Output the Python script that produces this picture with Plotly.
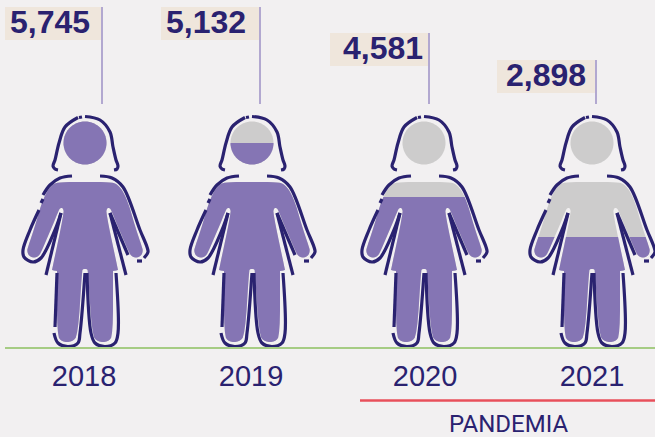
import numpy as np
import plotly.graph_objects as go

# ---- data ----
years = ["2018", "2019", "2020", "2021"]
cases = [5745, 5132, 4581, 2898]
fill_share = [1.0, 0.887, 0.652, 0.478]   # share of the pictogram filled
period_label = "PANDEMIA"

# ---- layout of the four pictograms (pixel-scaled axes) ----
W, H, BASE = 655, 437, 347
centers = [85, 252, 424, 592]
tick_x = [84, 251, 425, 592]
leader_x = [102, 260, 429, 596]
label_top = [7, 7, 33, 60]
label_text_x = [50, 206, 383, 546]
LABEL_W, LABEL_H, LEADER_END = 98, 33, 104
ICON_H = 230

NAVY, PURPLE, GRAY = "#2a2270", "#8575b4", "#cdcccc"
LEADER, BEIGE, GREEN, RED, BG = "#9c90c4", "#efe6dc", "#a6cc84", "#e8505b", "#f2f0f1"

# ---- pictogram geometry, relative to its centre (u) and in picture rows (r) ----
half_body = [(0,182),(25,182),(32,184),(38,191),(44,205),(50,226),(57,247),(58,251),(56,256),
             (51,258),(46,256),(43,250),(31,222),(27,212),(25,208),(22,208),(21,213),(33,270),(33,270),(33,270),
             (28,271),(28,271),(28,335),(23,342),(13,342),(7,335),(3,271),(2,269),(0,269)]
strokes = [
    [(-27,170),(-30,169),(-32,166),(-30,160),(-26,143),(-20,127),(-7,117.5)],
    [(-6,117.5),(-3,117)],
    [(0,116.5),(15,120),(25,132),(28,147),(31,160),(33,166),(32,169),(29,170)],
    [(-13,176),(-25,178),(-35,185),(-42,195)],
    [(-42,199),(-44,203)],
    [(-46,210),(-55,230),(-62,250),(-61,257),(-52,262),(-44,258),(-30,230),(-24,213)],
    [(-24,213),(-39,275)],
    [(15,176),(27,178),(38,187),(55,230),(62,247),(63,252),(59,258)],
    [(57,261),(52,261)],
    [(43,255),(25,213)],
    [(25,213),(41,275)],
    [(-28,273),(-30,327)],
    [(-31,333),(-27,343),(-17,346.5),(-7,343),(-5,333),(0,273)],
    [(2,273),(6,333),(10,343),(20,346.5),(30,343),(33,333),(31,273)],
]
HEAD_ROW, HEAD_R = 143, 21.5


def smooth(points, rounds=2):
    p = np.array(points, float)
    for _ in range(rounds):
        q = np.roll(p, -1, axis=0)
        p = np.column_stack((0.75 * p + 0.25 * q, 0.25 * p + 0.75 * q)).reshape(-1, 2)
    return p


def clip_below(p, limit):
    """Keep the part of polygon p (u, height) that lies under height = limit."""
    out = []
    for a, b in zip(p, np.roll(p, -1, axis=0)):
        if a[1] <= limit:
            out.append(a)
        if (a[1] <= limit) != (b[1] <= limit):
            t = (limit - a[1]) / (b[1] - a[1])
            out.append(a + t * (b - a))
    return np.array(out) if out else np.empty((0, 2))


body = smooth(half_body + [(-u, r) for u, r in half_body[::-1]])
body[:, 1] = BASE - body[:, 1]
angles = np.linspace(0, 2 * np.pi, 121)[:-1]
head = np.column_stack((HEAD_R * np.cos(angles), BASE - HEAD_ROW + HEAD_R * np.sin(angles)))

fig = go.Figure()


def area(poly, cx, color):
    fig.add_trace(go.Scatter(x=poly[:, 0] + cx, y=poly[:, 1], mode="none", fill="toself",
                             fillcolor=color, hoverinfo="skip", cliponaxis=False))


for year, share, cx in zip(years, fill_share, centers):
    level = share * ICON_H
    for part in (head, body):
        area(part, cx, GRAY)
        clipped = clip_below(part, level)
        if len(clipped):
            area(clipped, cx, PURPLE)
    xs, ys = [], []
    for s in strokes:
        xs += [cx + u for u, _ in s] + [None]
        ys += [BASE - r for _, r in s] + [None]
    fig.add_trace(go.Scatter(x=xs, y=ys, mode="lines", hoverinfo="skip", cliponaxis=False,
                             line=dict(color=NAVY, width=3.2, shape="spline", smoothing=1.0)))

shapes = []
for value, lx, tx, top in zip(cases, leader_x, label_text_x, label_top):
    shapes.append(dict(type="rect", xref="x", yref="y", x0=lx - LABEL_W - 1, x1=lx - 1,
                       y0=BASE - top, y1=BASE - top - LABEL_H,
                       fillcolor=BEIGE, line_width=0, layer="below"))
    fig.add_trace(go.Scatter(x=[lx, lx], y=[BASE - top, BASE - LEADER_END], mode="lines",
                             hoverinfo="skip", line=dict(color=LEADER, width=1.5)))
    fig.add_trace(go.Scatter(x=[tx], y=[BASE - top - LABEL_H / 2 - 1], mode="text",
                             text=[f"<b>{value:,}</b>"], textposition="middle center", hoverinfo="skip",
                             textfont=dict(family="Liberation Sans", size=32, color=NAVY)))

shapes.append(dict(type="line", xref="x", yref="paper", x0=360, x1=W,
                   y0=(BASE - 400.5) / BASE, y1=(BASE - 400.5) / BASE,
                   line=dict(color=RED, width=2.5)))
fig.add_annotation(x=508, y=(BASE - 424) / BASE, xref="x", yref="paper", yanchor="middle",
                   text=period_label, showarrow=False,
                   font=dict(family="Roboto", size=24, color=NAVY))

fig.update_layout(
    width=W, height=H, margin=dict(l=5, r=0, t=0, b=H - BASE), showlegend=False,
    paper_bgcolor=BG, plot_bgcolor=BG, shapes=shapes,
    xaxis=dict(range=[5, W], tickmode="array", tickvals=tick_x, ticktext=years, showgrid=False,
               zeroline=False, showline=True, linecolor=GREEN, linewidth=1.5, ticks="",
               ticklabelstandoff=2, tickfont=dict(family="Liberation Sans", size=29, color=NAVY)),
    yaxis=dict(range=[0, BASE], visible=False),
)
fig.write_html("out.html", config=dict(displayModeBar=False),
               post_script="document.body.style.margin='0';document.body.style.overflow='hidden';")
